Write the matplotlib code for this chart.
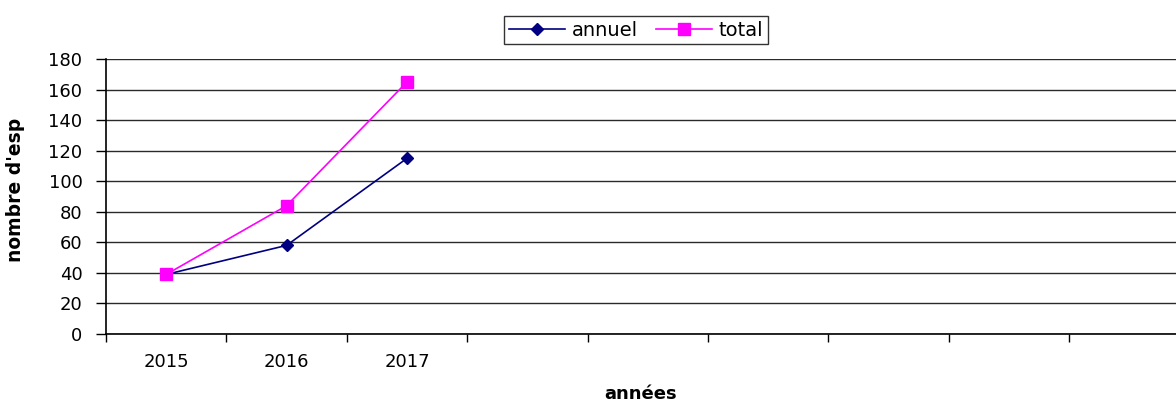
import matplotlib
matplotlib.use("Agg")
import matplotlib.pyplot as plt
from matplotlib.ticker import FixedLocator, NullFormatter

plt.rcParams['font.family'] = ['DejaVu Sans']

years = ["2015", "2016", "2017"]
annuel = [39, 58, 115]
total = [39, 84, 165]
yticks = [0, 20, 40, 60, 80, 100, 120, 140, 160, 180]

fig = plt.figure(figsize=(11.76, 4.01), dpi=100)
ax = fig.add_axes([106/1176, 1 - 334/401, 1 - 106/1176, (334 - 59)/401])

x = list(range(len(years)))
ax.plot(x, annuel, color="#000080", lw=1.2, marker="D", markersize=6.5,
        markerfacecolor="#000080", markeredgecolor="#000080", label="annuel", zorder=3)
ax.plot(x, total, color="#FF00FF", lw=1.2, marker="s", markersize=8,
        markerfacecolor="#FF00FF", markeredgecolor="#FF00FF", label="total", zorder=3)

ax.set_ylim(0, 180)
ax.set_xlim(-0.5, -0.5 + 1070/120.4)
ax.set_yticks(yticks)
ax.yaxis.grid(True, color="#2a2a2a", lw=1.0)
ax.set_axisbelow(True)

ax.xaxis.set_major_locator(FixedLocator([i + 0.5 for i in range(-1, 8)]))
ax.xaxis.set_major_formatter(NullFormatter())
ax.xaxis.set_minor_locator(FixedLocator(x))
ax.set_xticklabels(years, minor=True)
ax.tick_params(axis="x", which="major", direction="out", length=6, width=1, color="black")
ax.tick_params(axis="x", which="minor", length=0, pad=14, labelsize=13)
ax.tick_params(axis="y", direction="out", length=7, width=1, labelsize=13, pad=10)

for s in ["top", "right"]:
    ax.spines[s].set_visible(False)
ax.spines["left"].set_color("black")
ax.spines["bottom"].set_color("black")
ax.spines["left"].set_linewidth(1.2)
ax.spines["bottom"].set_linewidth(1.2)

ax.set_ylabel("nombre d'esp", fontsize=13.5, fontweight="bold")
ax.yaxis.set_label_coords(-0.0757, 0.524)
ax.set_xlabel("années", fontsize=13, fontweight="bold")
ax.xaxis.set_label_coords(0.5, -0.185)

leg = fig.legend(loc="center", bbox_to_anchor=(636/1176, 1 - 30/401), ncol=2,
                 frameon=True, fancybox=False, fontsize=14, handlelength=2.9,
                 columnspacing=0.9, handletextpad=0.35, borderpad=0.25,
                 borderaxespad=0.3)
leg.get_frame().set_edgecolor("black")
leg.get_frame().set_linewidth(1.0)

fig.savefig("out.png", dpi=100)
